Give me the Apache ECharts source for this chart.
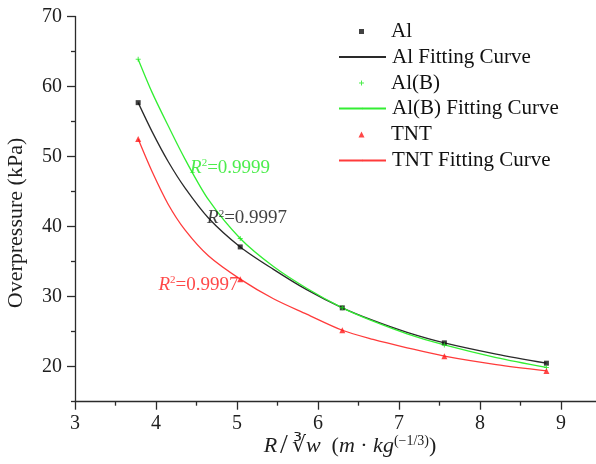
<!DOCTYPE html>
<html>
<head>
<meta charset="utf-8">
<script src="https://cdn.jsdelivr.net/npm/echarts@6/dist/echarts.min.js"></script>
<style>
  html, body { margin: 0; padding: 0; background: #ffffff; }
  #chart { width: 596px; height: 464px; }
</style>
</head>
<body>
<div id="chart"></div>
<script>
// Measured points: scaled distance R / W^(1/3) and peak overpressure (kPa)
const distances = [3.78, 5.04, 6.30, 7.56, 8.82];
const alValues  = [57.7, 37.1, 28.4, 23.4, 20.5];
const alBValues = [63.9, 38.3, 28.4, 23.1, 19.9];
const tntValues = [52.5, 32.5, 25.2, 21.5, 19.4];

// Fitted curves, sampled along the distance range
const fitDistances = [3.78, 3.95, 4.15, 4.36, 4.65, 5.04, 5.45, 5.86, 6.30, 6.68, 7.10, 7.56, 8.20, 8.82];
const alFit  = [57.7, 53.6, 49.3, 45.5, 41.2, 37.1, 33.9, 31.0, 28.4, 26.6, 24.9, 23.4, 21.8, 20.5];
const alBFit = [63.9, 59.2, 54.4, 49.6, 43.8, 38.3, 34.3, 31.2, 28.4, 26.5, 24.7, 23.1, 21.3, 19.9];
const tntFit = [52.5, 47.9, 43.2, 39.5, 35.8, 32.5, 29.7, 27.5, 25.2, 23.9, 22.7, 21.5, 20.3, 19.4];

// Axis tick values
const xTicks = [3, 4, 5, 6, 7, 8, 9];
const yTicks = [20, 30, 40, 50, 60, 70];
const yMinorTicks = [15, 25, 35, 45, 55, 65];

// Goodness-of-fit notes, anchored in data units
const noteSeries = ['Al(B)', 'Al', 'TNT'];
const noteR2 = ['0.9999', '0.9997', '0.9997'];
const noteX = [4.42, 4.63, 4.03];
const noteY = [48.4, 41.2, 31.7];

const SERIF = "'Liberation Serif', 'Times New Roman', serif";
const COLORS = { 'Al': '#111111', 'Al(B)': '#1fe81f', 'TNT': '#ff1a1a' };
const CURVE_COLORS = { 'Al': '#2a2a2a', 'Al(B)': '#33ee33', 'TNT': '#ff3b3b' };
const PLUS = 'path://M2,0H3V2H5V3H3V5H2V3H0V2H2Z';

const zip = (xs, ys) => xs.map((x, i) => [x, ys[i]]);

function pointSeries(name, vals, symbol, size) {
  return {
    name, type: 'scatter', data: zip(distances, vals), symbol, symbolSize: size,
    itemStyle: { color: COLORS[name] }, z: 5, silent: true
  };
}
function curveSeries(name, base, vals) {
  return {
    name, type: 'line', data: zip(fitDistances, vals), symbol: 'none', showSymbol: false,
    smooth: 0.3,
    lineStyle: { color: CURVE_COLORS[base], width: 1.3 },
    itemStyle: { color: CURVE_COLORS[base] }, z: 3, silent: true
  };
}

const noteData = noteR2.map((r2, i) => {
  const c = COLORS[noteSeries[i]];
  return {
    value: [noteX[i], noteY[i]],
    label: {
      formatter: '{r|R}{s|2}{t|=' + r2 + '}',
      rich: {
        r: { fontFamily: SERIF, fontStyle: 'italic', fontSize: 19, color: c, lineHeight: 20 },
        s: { fontFamily: SERIF, fontSize: 11, color: c, verticalAlign: 'top', lineHeight: 20 },
        t: { fontFamily: SERIF, fontSize: 19, color: c, lineHeight: 20 }
      }
    }
  };
});

// Legend rows: one legend component per entry. Marker entries use a small icon
// centred on the line-icon column, with a spacer so every label starts at one x.
const LEGEND_LEFT = 338, LINE_ICON_W = 47, TEXT_X = 391;
const legendRows = [
  { name: 'Al', cy: 31.5, w: 5, h: 5 },
  { name: 'Al Fitting Curve', cy: 57, w: LINE_ICON_W, h: 2 },
  { name: 'Al(B)', cy: 83, w: 5, h: 5 },
  { name: 'Al(B) Fitting Curve', cy: 108.5, w: LINE_ICON_W, h: 2 },
  { name: 'TNT', cy: 134.5, w: 6, h: 6 },
  { name: 'TNT Fitting Curve', cy: 160.5, w: LINE_ICON_W, h: 2 }
];

const axisLineStyle = { color: '#2b2b2b', width: 1.3 };
const labelStyle = { fontFamily: SERIF, fontSize: 20, color: '#1e1e1e' };

const chart = echarts.init(document.getElementById('chart'), null, { renderer: 'canvas' });
chart.setOption({
  animation: false,
  backgroundColor: '#ffffff',
  grid: { left: 75, top: 16.5, bottom: 62.3, right: -46, containLabel: false, outerBoundsMode: 'none' },
  legend: legendRows.map(r => {
    const iconLeft = LEGEND_LEFT + (LINE_ICON_W - r.w) / 2;
    const spacer = Math.max(0, TEXT_X - (iconLeft + r.w + 5));
    return {
      data: [r.name], orient: 'vertical', left: iconLeft, top: r.cy - 11, padding: 0,
      itemWidth: r.w, itemHeight: r.h, itemGap: 0, selectedMode: false,
      formatter: name => (spacer > 0 ? '{sp|}' : '') + '{t|' + name + '}',
      textStyle: {
        fontFamily: SERIF, fontSize: 21, color: '#111', lineHeight: 22,
        rich: {
          sp: { width: spacer, lineHeight: 22 },
          t: { fontFamily: SERIF, fontSize: 21, color: '#111', lineHeight: 22 }
        }
      }
    };
  }),
  xAxis: {
    type: 'value', min: 3, max: 10, interval: 1,
    axisLine: { show: true, onZero: false, lineStyle: axisLineStyle },
    axisTick: { show: true, inside: false, length: 8, lineStyle: axisLineStyle },
    minorTick: { show: true, splitNumber: 2, length: 4, lineStyle: axisLineStyle },
    axisLabel: Object.assign({ margin: 12, formatter: v => xTicks.includes(v) ? String(v) : '' }, labelStyle),
    splitLine: { show: false }, minorSplitLine: { show: false }
  },
  yAxis: [
    {
      type: 'value', min: 15, max: 70, position: 'left', offset: 0,
      axisLine: { show: true, onZero: false, lineStyle: axisLineStyle },
      axisTick: { show: true, inside: false, length: 8, lineStyle: axisLineStyle, customValues: yTicks },
      axisLabel: Object.assign({ margin: 13, customValues: yTicks }, labelStyle),
      splitLine: { show: false }
    },
    {
      type: 'value', min: 15, max: 70, position: 'left', offset: 0,
      axisLine: { show: false },
      axisTick: { show: true, inside: false, length: 4, lineStyle: axisLineStyle, customValues: yMinorTicks },
      axisLabel: { show: false },
      splitLine: { show: false }
    }
  ],
  series: [
    curveSeries('Al Fitting Curve', 'Al', alFit),
    curveSeries('Al(B) Fitting Curve', 'Al(B)', alBFit),
    curveSeries('TNT Fitting Curve', 'TNT', tntFit),
    pointSeries('Al', alValues, 'rect', 5),
    pointSeries('Al(B)', alBValues, PLUS, 5),
    pointSeries('TNT', tntValues, 'triangle', 6),
    {
      name: 'fit notes', type: 'scatter', data: noteData, symbolSize: 0, silent: true, z: 6,
      label: { show: true, position: 'right', distance: 0 }
    }
  ],
  graphic: [
    {
      type: 'text', x: 16, y: 223, rotation: Math.PI / 2,
      style: {
        text: 'Overpressure (kPa)', fontFamily: SERIF, fontSize: 22, fill: '#1e1e1e',
        align: 'center', verticalAlign: 'middle'
      }
    },
    {
      type: 'text', x: 350, y: 446,
      style: {
        text: '{i|R}{sl|/}{rt|∛}{i|w}{n|  (}{i|m}{n| · }{i|kg}{sup|(−1/3)}{n|)}',
        align: 'center', verticalAlign: 'middle',
        rich: {
          i: { fontFamily: SERIF, fontStyle: 'italic', fontSize: 22, fill: '#1e1e1e', lineHeight: 24 },
          n: { fontFamily: SERIF, fontSize: 22, fill: '#1e1e1e', lineHeight: 24 },
          sl: { fontFamily: SERIF, fontSize: 28, fill: '#1e1e1e', lineHeight: 24, padding: [0, 4, 0, 3] },
          rt: { fontFamily: SERIF, fontSize: 22, fill: '#1e1e1e', lineHeight: 24 },
          sup: { fontFamily: SERIF, fontSize: 14, fill: '#1e1e1e', lineHeight: 24, verticalAlign: 'top' }
        }
      }
    }
  ]
});
</script>
</body>
</html>
